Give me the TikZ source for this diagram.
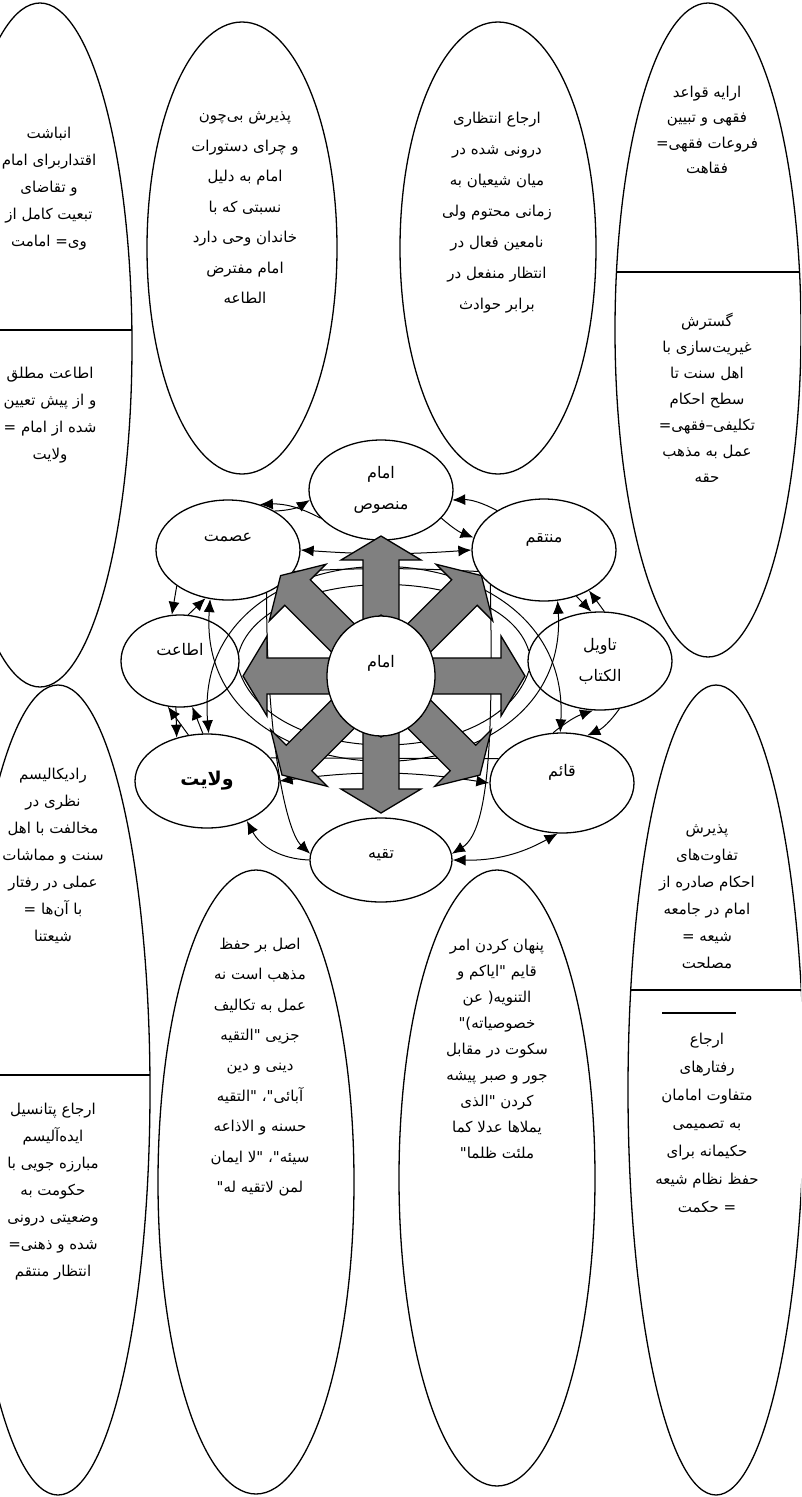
\documentclass[tikz,border=0pt]{standalone}
\usepackage{fontspec}
\usetikzlibrary{shapes.geometric,arrows.meta,positioning}
\newfontfamily\farsi[Script=Arabic]{DejaVu Sans}
\TeXXeTstate=1
\newcommand*{\fa}[1]{\beginR #1\endR}
\newcommand*{\lift}[2]{\raisebox{#1}[0pt][0pt]{\fa{#2}}}
\definecolor{armgray}{RGB}{128,128,128}
\tikzset{
  oval/.style={draw, line width=1.3pt},
  note/.style={align=center, font=\farsi\fontsize{15}{#1}\selectfont},
  note/.default=27,
  idea/.style={ellipse, draw, line width=1.3pt, fill=white, inner sep=0pt,
    minimum width=144pt, minimum height=100pt, align=center,
    font=\farsi\fontsize{16}{31}\selectfont},
  rel/.style={line width=1pt, -{Latex[length=13pt,width=11pt]}},
  both/.style={line width=1pt, {Latex[length=13pt,width=11pt]}-{Latex[length=13pt,width=11pt]}},
  link/.style={line width=1pt},
  arm/.style={draw, line width=1.3pt, fill=armgray},
}

\begin{document}
\begin{tikzpicture}[x=1pt, y=-1pt]
  \useasboundingbox (0,0) rectangle (801,1497);
  \clip (0,0) rectangle (801,1497);

  % big ovals round the edge
  \foreach \cx/\cy/\rx/\ry in {40/345/92/342, 242/248/95/226, 498/248/98/226, 708/330/93/327,
                               58/1090/92/405, 256/1182/98/312, 497/1178/98/308, 716/1090/88/405}
    \draw[oval] (\cx,\cy) ellipse [x radius=\rx, y radius=\ry];

  % dividers
  \begin{scope}
    \clip (40,345) ellipse [x radius=92, y radius=342];
    \draw[oval] (-60,330) -- (140,330);
  \end{scope}
  \begin{scope}
    \clip (708,330) ellipse [x radius=93, y radius=327];
    \draw[oval] (600,272) -- (810,272);
  \end{scope}
  \begin{scope}
    \clip (58,1090) ellipse [x radius=92, y radius=405];
    \draw[oval] (-40,1075) -- (160,1075);
  \end{scope}
  \begin{scope}
    \clip (716,1090) ellipse [x radius=88, y radius=405];
    \draw[oval] (620,990) -- (810,990);
  \end{scope}
  \draw[oval] (662,1013) -- (736,1013);

  % texts of the ovals
  \node[note] (tl-top) at (49,189) {\fa{انباشت}\\\fa{اقتداربرای امام}\\\fa{و تقاضای}\\\fa{تبعیت کامل از}\\\fa{وی= امامت}};
  \node[note] (tl-bot) at (50,415) {\fa{اطاعت  مطلق}\\\fa{و از پیش تعیین}\\\fa{شده از امام =}\\\fa{ولایت}};
  \node[note=30.5] (t2) at (245,208) {\fa{پذیرش بی‌چون}\\\fa{و چرای دستورات}\\\fa{امام به دلیل}\\\fa{نسبتی که با}\\\fa{خاندان وحی دارد}\\\fa{امام مفترض}\\\fa{الطاعه}};
  \node[note=31] (t3) at (497,213) {\fa{ارجاع انتظاری}\\\fa{درونی شده در}\\\fa{میان شیعیان به}\\\fa{زمانی محتوم ولی}\\\fa{نامعین فعال در}\\\fa{انتظار منفعل در}\\\fa{برابر حوادث}};
  \node[note=25.5] (tr-top) at (707,130) {\fa{ارایه قواعد}\\\fa{فقهی و تبیین}\\\fa{فروعات فقهی=}\\\fa{فقاهت}};
  \node[note=26] (tr-bot) at (707,398) {\fa{گسترش}\\\fa{غیریت‌سازی با}\\\fa{اهل سنت تا}\\\fa{سطح احکام}\\\fa{تکلیفی–فقهی=}\\\fa{عمل  به مذهب}\\\fa{حقه}};
  \node[note] (ml-top) at (53,856) {\fa{رادیکالیسم}\\\fa{نظری در}\\\fa{مخالفت با اهل}\\\fa{سنت و مماشات}\\\fa{عملی در رفتار}\\\fa{با آن‌ها  =}\\\fa{شیعتنا}};
  \node[note] (ml-bot) at (53,1192) {\fa{ارجاع پتانسیل}\\\fa{ایده‌آلیسم}\\\fa{مبارزه جویی با}\\\fa{حکومت به}\\\fa{وضعیتی درونی}\\\fa{شده و ذهنی=}\\\fa{انتظار منتقم}};
  \node[note=30.4] (b2) at (260,1067) {\fa{اصل بر حفظ}\\\fa{مذهب است نه}\\\fa{عمل به تکالیف}\\\fa{جزیی "التقیه}\\\fa{دینی و دین}\\\fa{آبائی"، "التقیه}\\\fa{حسنه و الاذاعه}\\\fa{سیئه"، "لا ایمان}\\\fa{لمن لاتقیه له"}};
  \node[note=26] (b3) at (497,1049) {\fa{پنهان کردن امر}\\\fa{قایم "ایاکم و}\\\fa{التنویه( عن}\\\fa{خصوصیاته)"}\\\fa{سکوت در مقابل}\\\fa{جور و صبر پیشه}\\\fa{کردن "الذی}\\\fa{یملاها عدلا کما}\\\fa{ملئت ظلما"}};
  \node[note] (br-top) at (707,897) {\fa{پذیرش}\\\fa{تفاوت‌های}\\\fa{احکام صادره از}\\\fa{امام در جامعه}\\\fa{شیعه =}\\\fa{مصلحت}};
  \node[note=28] (br-bot) at (707,1123) {\fa{ارجاع}\\\fa{رفتارهای}\\\fa{متفاوت امامان}\\\fa{به تصمیمی}\\\fa{حکیمانه برای}\\\fa{حفظ نظام شیعه}\\\fa{=  حکمت}};

  % ring of concepts
  \coordinate (ic) at (381,676);
  \node[idea] (mansus) at (381,490) {\fa{امام}\\\fa{منصوص}};
  \node[idea] (esmat) at (228,550) {\lift{9pt}{عصمت}};
  \node[idea, minimum height=102pt] (montaqem) at (544,550) {\lift{8pt}{منتقم}};
  \node[idea, minimum width=118pt, minimum height=92pt] (etaat) at (180,661) {\lift{6pt}{اطاعت}};
  \node[idea, minimum height=98pt] (tawil) at (600,661) {\fa{تاویل}\\\fa{الکتاب}};
  \node[idea, minimum height=94pt, font=\farsi\bfseries\fontsize{19}{22}\selectfont] (velayat) at (207,781) {\fa{ولایت}};
  \node[idea] (qaem) at (562,783) {\lift{7pt}{قائم}};
  \node[idea, minimum width=142pt, minimum height=84pt] (taqiyeh) at (381,860) {\lift{2pt}{تقیه}};

  % web round the centre
  \draw[link] (esmat.342) to[bend left=3] (montaqem.198);
  \draw[link] (velayat.20) -- (qaem.159);
  \draw[both] (esmat.east) to[bend right=4] (montaqem.west);
  \draw[both] (velayat.east) to[bend left=8] (qaem.west);
  \draw[both] (velayat.88) .. controls (190,515) and (572,515) .. (qaem.92);
  \draw[both] (esmat.250) .. controls (195,811) and (570,811) .. (montaqem.285);
  \draw[link] (etaat.8) .. controls (265,562) and (502,562) .. (tawil.172);
  \draw[link] (etaat.352) .. controls (270,770) and (496,770) .. (tawil.188);
  \draw[rel] (esmat.312) .. controls (266,730) and (285,830) .. (taqiyeh.175);
  \draw[rel] (montaqem.213) .. controls (493,730) and (490,830) .. (taqiyeh.5);

  % neighbours
  \draw[rel] (esmat.40) to[bend right=15] (mansus.188);
  \draw[rel] (mansus.205) to[bend right=15] (esmat.55);
  \draw[rel] (montaqem.140) to[bend right=15] (mansus.352);
  \draw[rel] (mansus.335) to[bend right=10] (montaqem.170);
  \draw[rel] (montaqem.305) -- (tawil.100);
  \draw[rel] (tawil.85) -- (montaqem.318);
  \draw[rel] (esmat.215) -- (etaat.100);
  \draw[rel] (etaat.80) -- (esmat.245);
  \draw[rel] (velayat.112) -- (etaat.255);
  \draw[rel] (velayat.95) -- (etaat.285);
  \draw[rel] (etaat.265) -- (velayat.125);
  \draw[rel] (qaem.100) to[bend left=10] (tawil.262);
  \draw[rel] (tawil.292) to[bend left=15] (qaem.62);
  \draw[rel] (taqiyeh.180) to[bend left=30] (velayat.315);
  \draw[both] (taqiyeh.east) to[bend right=15] (qaem.265);

  % arrows out of the centre
  \foreach \a/\l/\t in {90/140/48, 270/137/48, 0/144/40, 180/138/40, 45/142/44, 135/142/44, 225/140/44, 315/140/44}
    \draw[arm, shift={(ic)}, rotate=\a]
      (\t,-18) -- (\l-24,-18) -- (\l-24,-40) -- (\l,0) -- (\l-24,40)
      -- (\l-24,18) -- (\t,18) -- (\t+13,0) -- cycle;
  \node[idea, minimum width=108pt, minimum height=120pt] (imam) at (ic) {\lift{9pt}{امام}};
\end{tikzpicture}
\end{document}
